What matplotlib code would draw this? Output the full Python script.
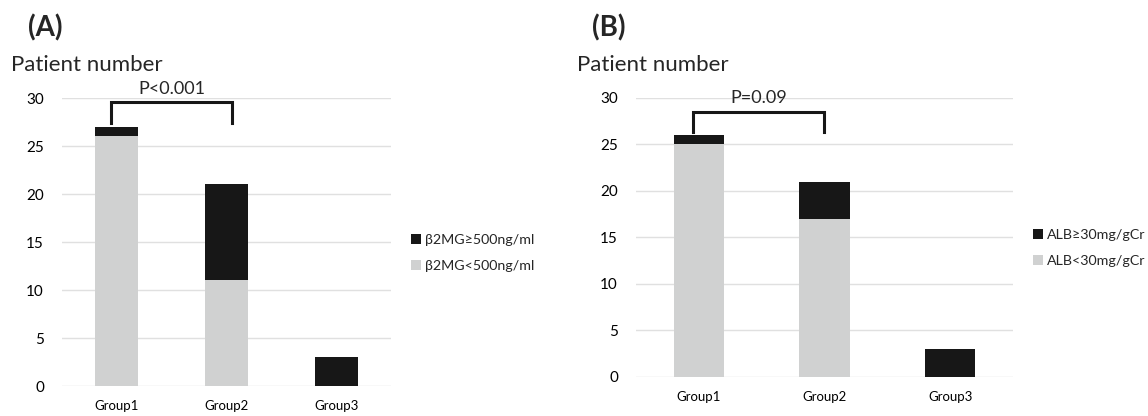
import matplotlib.pyplot as plt

plt.rcParams['font.family'] = ['Lato', 'DejaVu Sans']
plt.rcParams['text.color'] = '#262626'

groups = ['Group1', 'Group2', 'Group3']

# panel A: beta2-microglobulin
b2mg_low = [26, 11, 0]
b2mg_high = [1, 10, 3]
b2mg_labels = ['β2MG≥500ng/ml', 'β2MG<500ng/ml']
b2mg_p = 'P<0.001'

# panel B: urinary albumin
alb_low = [25, 17, 0]
alb_high = [1, 4, 3]
alb_labels = ['ALB≥30mg/gCr', 'ALB<30mg/gCr']
alb_p = 'P=0.09'

GRAY = '#d0d1d1'
BLACK = '#171717'

fig = plt.figure(figsize=(11.48, 4.16), dpi=100)

panels = [
    # tag, axes rect, low, high, labels, p text, bracket (x0, x1, ybottom, ytop),
    # p-text y, legend anchor, bar width, tag x, title x
    ('(A)', [0.054, 0.0721, 0.2866, 0.6923], b2mg_low, b2mg_high, b2mg_labels, b2mg_p,
     (-0.05, 1.05, 27.4, 29.6), 30.9, (0.358, 0.392), 0.39, 0.024, 0.010),
    ('(B)', [0.554, 0.0938, 0.3284, 0.6707], alb_low, alb_high, alb_labels, alb_p,
     (-0.05, 1.0, 26.3, 28.5), 30.0, (0.900, 0.404), 0.40, 0.516, 0.503),
]

for tag, rect, low, high, labels, ptext, br, py, leg_xy, width, tag_x, title_x in panels:
    ax = fig.add_axes(rect)
    x = range(len(groups))
    b_low = ax.bar(x, low, width, color=GRAY, zorder=3)
    b_high = ax.bar(x, high, width, bottom=low, color=BLACK, zorder=3)

    ax.set_xlim(-0.5, 2.5)
    ax.set_ylim(0, 30)
    ax.set_yticks(range(0, 31, 5))
    ax.set_xticks(list(x))
    ax.set_xticklabels(groups, fontsize=9.5)
    ax.tick_params(axis='y', length=0, pad=13, labelsize=11)
    ax.tick_params(axis='x', length=0, pad=10)
    ax.grid(axis='y', color='#e0e0e0', linewidth=1, zorder=0)
    for s in ax.spines.values():
        s.set_visible(False)

    # significance bracket between Group1 and Group2
    x0, x1, yb, yt = br
    ax.plot([x0, x0, x1, x1], [yb, yt, yt, yb], color=BLACK, linewidth=2.2,
            clip_on=False, zorder=4, solid_joinstyle='miter')
    ax.text((x0 + x1) / 2, py, ptext, ha='center', va='center', fontsize=13)

    fig.text(title_x, 0.844, 'Patient number', fontsize=16, ha='left', va='center')
    fig.text(tag_x, 0.933, tag, fontsize=20, fontweight='bold', ha='left', va='center')

    fig.legend([b_high, b_low], labels, loc='center left', bbox_to_anchor=leg_xy,
               frameon=False, fontsize=10.3, handlelength=0.7, handleheight=0.7,
               handletextpad=0.25, labelspacing=0.95, borderpad=0, borderaxespad=0)

plt.savefig('out.png', dpi=100)
